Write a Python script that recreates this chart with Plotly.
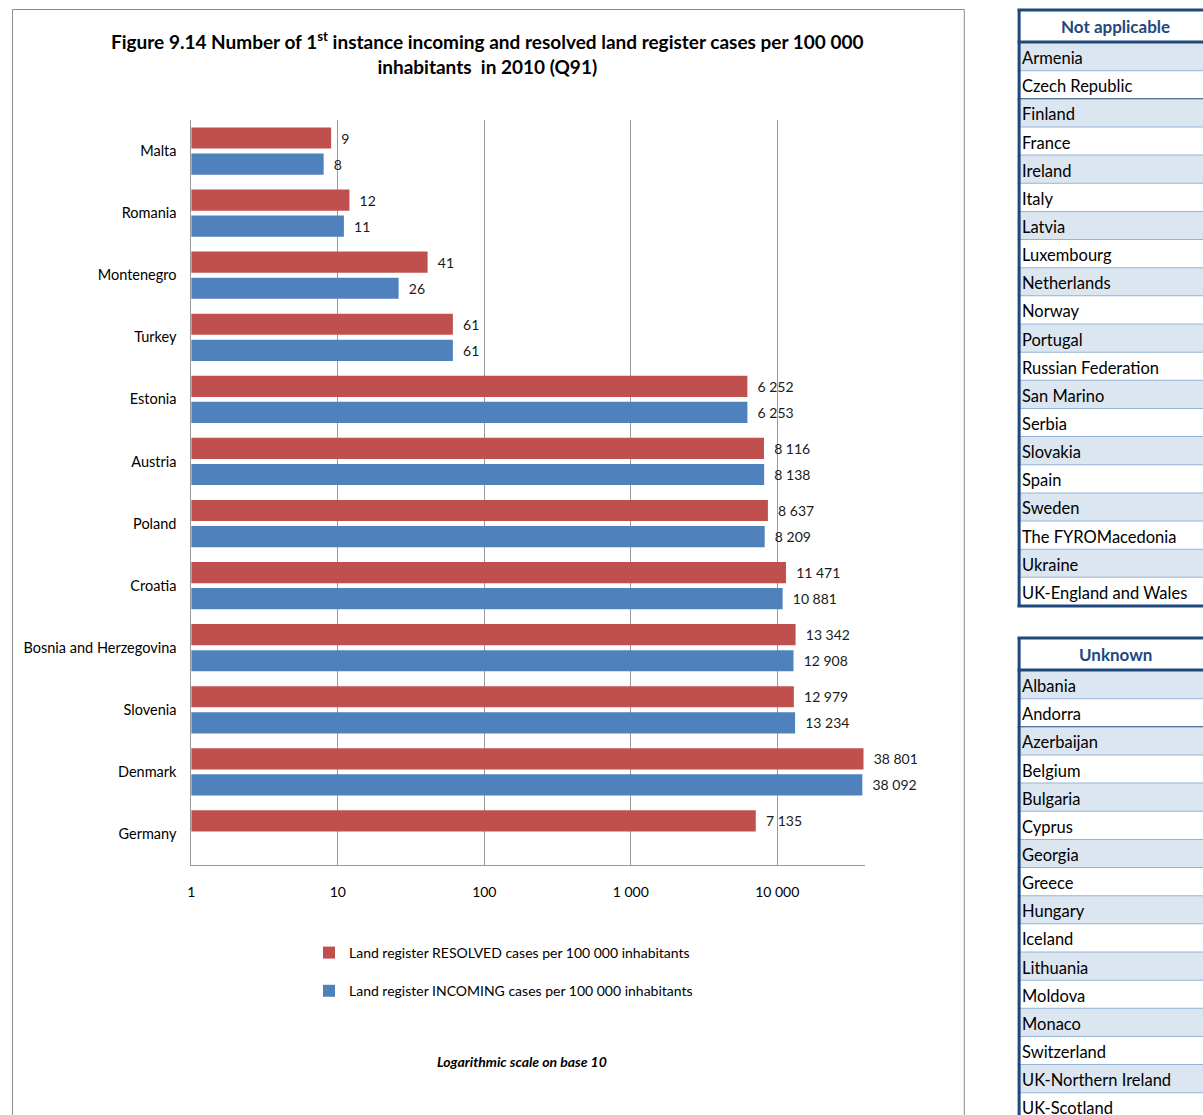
import plotly.graph_objects as go

W, H = 1203, 1115
FONT = "Lato, 'Open Sans', sans-serif"

countries = ["Malta", "Romania", "Montenegro", "Turkey", "Estonia", "Austria", "Poland",
             "Croatia", "Bosnia and Herzegovina", "Slovenia", "Denmark", "Germany"]
resolved = [9, 12, 41, 61, 6252, 8116, 8637, 11471, 13342, 12979, 38801, 7135]
incoming = [8, 11, 26, 61, 6253, 8138, 8209, 10881, 12908, 13234, 38092, None]

tick_vals = [1, 10, 100, 1000, 10000]
tick_text = ["1", "10", "100", "1 000", "10 000"]

not_applicable = ["Armenia", "Czech Republic", "Finland", "France", "Ireland", "Italy", "Latvia",
                  "Luxembourg", "Netherlands", "Norway", "Portugal", "Russian Federation",
                  "San Marino", "Serbia", "Slovakia", "Spain", "Sweden", "The FYROMacedonia",
                  "Ukraine", "UK-England and Wales"]
unknown = ["Albania", "Andorra", "Azerbaijan", "Belgium", "Bulgaria", "Cyprus", "Georgia",
           "Greece", "Hungary", "Iceland", "Lithuania", "Moldova", "Monaco", "Switzerland",
           "UK-Northern Ireland", "UK-Scotland"]

RED = "#C0504D"
BLUE = "#4F81BD"
DARK = "#1F497D"
LIGHT = "#DCE6F1"
SEP = "#95B3D7"


def fmt(v):
    return None if v is None else "\u00a0\u00a0" + f"{v:,}".replace(",", " ")


def px(x):
    return x / W


def py(y):
    return 1 - y / H


fig = go.Figure()
fig.add_trace(go.Bar(
    y=countries, x=resolved, orientation="h", name="Land register RESOLVED cases per 100 000 inhabitants",
    marker=dict(color=RED, line=dict(width=0)), text=[fmt(v) for v in resolved],
    textposition="outside", cliponaxis=False, constraintext="none",
    textfont=dict(size=14, color="#1a1a1a", family=FONT), legendgroup="r"))
fig.add_trace(go.Bar(
    y=countries, x=incoming, orientation="h", name="Land register INCOMING cases per 100 000 inhabitants",
    marker=dict(color=BLUE, line=dict(width=0)), text=[fmt(v) for v in incoming],
    textposition="outside", cliponaxis=False, constraintext="none",
    textfont=dict(size=14, color="#1a1a1a", family=FONT), legendgroup="i"))

shapes = []
annotations = []

# chart frame
shapes.append(dict(type="rect", xref="paper", yref="paper", x0=px(8.5), x1=px(963.5),
                   y0=py(9.5), y1=-0.05, line=dict(color="#8c8c8c", width=1), layer="below"))

# title
annotations.append(dict(xref="paper", yref="paper", x=px(485), y=py(53), xanchor="center", yanchor="middle",
                        text="<b>Figure 9.14 Number of 1<sup>st</sup> instance incoming and resolved land register cases per 100 000<br>inhabitants  in 2010 (Q91)</b>",
                        showarrow=False, font=dict(size=19, family=FONT, color="#000"), align="center"))
annotations.append(dict(xref="paper", yref="paper", x=px(520), y=py(1061), xanchor="center", yanchor="middle",
                        text="<b><i>Logarithmic scale on base 10</i></b>", showarrow=False,
                        font=dict(size=14, family=FONT, color="#000")))


def draw_table(title, items, top, x0=1017, x1=1215, head_h=32, row_h=28.15):
    shapes.append(dict(type="rect", xref="paper", yref="paper", x0=px(x0), x1=px(x1),
                       y0=py(top), y1=py(top + head_h), fillcolor="white", line=dict(width=0)))
    annotations.append(dict(xref="paper", yref="paper", x=px((x0 + 3 + x1 - 2) / 2 - 1), y=py(top + head_h / 2 + 1),
                            xanchor="center", yanchor="middle", text=f"<b>{title}</b>", showarrow=False,
                            font=dict(size=17, family=FONT, color=DARK)))
    ys = top + head_h + 2
    for i, name in enumerate(items):
        r0 = ys + i * row_h
        shapes.append(dict(type="rect", xref="paper", yref="paper", x0=px(x0), x1=px(x1),
                           y0=py(r0), y1=py(r0 + row_h), fillcolor=LIGHT if i % 2 == 0 else "white",
                           line=dict(width=0)))
        shapes.append(dict(type="line", xref="paper", yref="paper", x0=px(x0), x1=px(x1),
                           y0=py(r0 + row_h), y1=py(r0 + row_h),
                           line=dict(color=DARK if i == 1 else SEP, width=2)))
        annotations.append(dict(xref="paper", yref="paper", x=px(x0 + 2), y=py(r0 + row_h / 2 + 1),
                                xanchor="left", yanchor="middle", text=name, showarrow=False,
                                font=dict(size=16.5, family=FONT, color="#000")))
    bottom = ys + len(items) * row_h
    shapes.append(dict(type="line", xref="paper", yref="paper", x0=px(x0), x1=px(x1),
                       y0=py(top + 1), y1=py(top + 1), line=dict(color=DARK, width=3)))
    shapes.append(dict(type="line", xref="paper", yref="paper", x0=px(x0), x1=px(x1),
                       y0=py(top + head_h + 1), y1=py(top + head_h + 1), line=dict(color=DARK, width=3)))
    shapes.append(dict(type="line", xref="paper", yref="paper", x0=px(x0), x1=px(x1),
                       y0=py(bottom), y1=py(bottom), line=dict(color=DARK, width=3)))
    shapes.append(dict(type="line", xref="paper", yref="paper", x0=px(x0 + 1.5), x1=px(x0 + 1.5),
                       y0=py(top), y1=py(bottom + 1), line=dict(color=DARK, width=3)))


draw_table("Not applicable", not_applicable, 9)
draw_table("Unknown", unknown, 637)

fig.update_layout(
    width=W, height=H, margin=dict(l=0, r=0, t=0, b=0),
    paper_bgcolor="white", plot_bgcolor="white",
    barmode="group", bargap=0.16, bargroupgap=0.19,
    font=dict(family=FONT, size=14, color="#000"),
    showlegend=True,
    legend=dict(x=px(306), y=py(937), xanchor="left", yanchor="top", traceorder="grouped",
                tracegroupgap=17, font=dict(size=14, family=FONT, color="#000"), bgcolor="rgba(0,0,0,0)"),
    xaxis=dict(type="log", domain=[px(188), px(864)], range=[0, 4.6], tickvals=tick_vals, ticktext=tick_text,
               showgrid=True, gridcolor="#9a9a9a", gridwidth=1, showline=True, linecolor="#9a9a9a",
               linewidth=1, ticks="outside", ticklen=14, tickcolor="rgba(0,0,0,0)", zeroline=False,
               tickfont=dict(size=14, family=FONT, color="#000")),
    yaxis=dict(domain=[py(865), py(120)], autorange="reversed", showline=True, linecolor="#9a9a9a",
               linewidth=1, ticks="outside", ticklen=11, tickcolor="rgba(0,0,0,0)", showgrid=False,
               tickfont=dict(size=14.5, family=FONT, color="#000")),
    shapes=shapes, annotations=annotations,
)

fig.write_html("out.html", config={"displayModeBar": False},
               post_script="document.body.style.margin='0';document.body.style.overflow='hidden';")
